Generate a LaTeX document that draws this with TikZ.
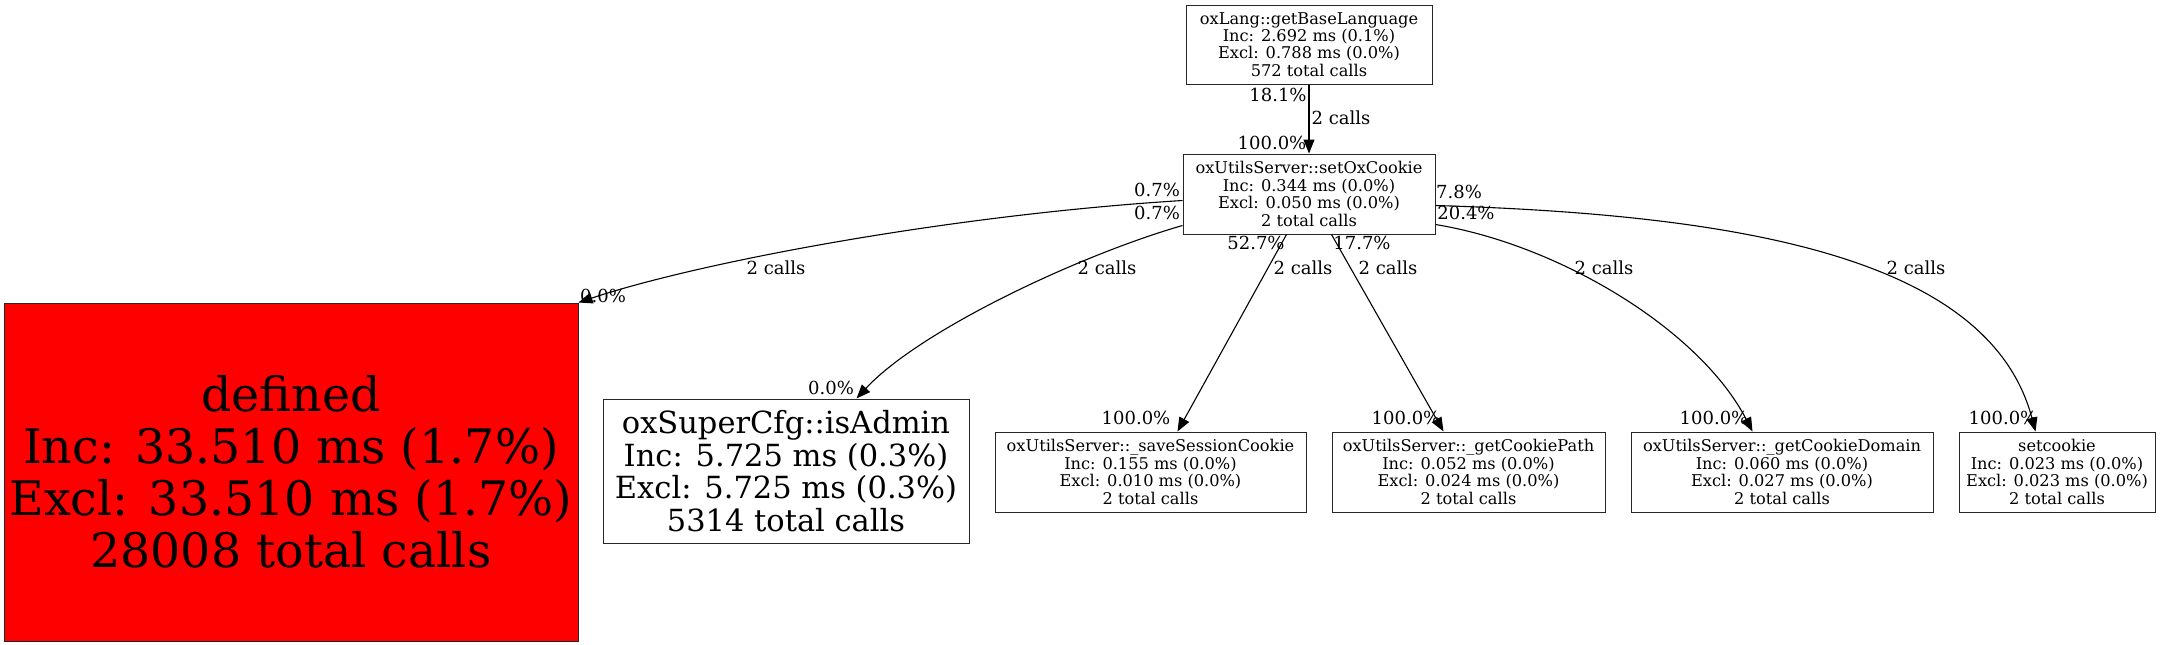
\documentclass[tikz,border=0pt]{standalone}
\usepackage{fontspec}
\setmainfont{DejaVu Serif}
\usetikzlibrary{arrows.meta,calc}
\begin{document}
\begin{tikzpicture}[x=1pt,y=-1pt,
  box/.style={draw=black!85,line width=1pt,rectangle,inner sep=0pt,align=center},
  fs/.style={box,font=\fontsize{16.2}{17.4}\selectfont,minimum height=80pt},
  lbl/.style={inner sep=0pt,font=\fontsize{18}{20}\selectfont},
  edge/.style={draw=black,line width=1.1pt,-{Triangle[length=14pt,width=11pt]}}]
\useasboundingbox (0,0) rectangle (2164,645);
% nodes
\node[fs,minimum width=246pt,minimum height=79pt] (A) at (1309,44.5) {oxLang::getBaseLanguage\\Inc: 2.692 ms (0.1\%)\\Excl: 0.788 ms (0.0\%)\\572 total calls};
\node[fs,minimum width=252pt] (B) at (1309,194) {oxUtilsServer::setOxCookie\\Inc: 0.344 ms (0.0\%)\\Excl: 0.050 ms (0.0\%)\\2 total calls};
\node[box,fill=red,minimum width=574pt,minimum height=338pt,font=\fontsize{47.5}{52}\selectfont] (D) at (291,472) {defined\\Inc: 33.510 ms (1.7\%)\\Excl: 33.510 ms (1.7\%)\\28008 total calls};
\node[box,minimum width=366pt,minimum height=144pt,font=\fontsize{30.5}{32.7}\selectfont] (E) at (786,471) {oxSuperCfg::isAdmin\\Inc: 5.725 ms (0.3\%)\\Excl: 5.725 ms (0.3\%)\\5314 total calls};
\node[fs,minimum width=311pt] (F) at (1150.5,472) {oxUtilsServer::\_saveSessionCookie\\Inc: 0.155 ms (0.0\%)\\Excl: 0.010 ms (0.0\%)\\2 total calls};
\node[fs,minimum width=273pt] (G) at (1468.5,472) {oxUtilsServer::\_getCookiePath\\Inc: 0.052 ms (0.0\%)\\Excl: 0.024 ms (0.0\%)\\2 total calls};
\node[fs,minimum width=302pt] (H) at (1782,472) {oxUtilsServer::\_getCookieDomain\\Inc: 0.060 ms (0.0\%)\\Excl: 0.027 ms (0.0\%)\\2 total calls};
\node[fs,minimum width=196pt] (I) at (2057,472) {setcookie\\Inc: 0.023 ms (0.0\%)\\Excl: 0.023 ms (0.0\%)\\2 total calls};
% edges
\draw[edge] (A.south) -- (B.north);
\draw[edge] ($(B.north west)+(0pt,-47pt)$) .. controls (950,215) and (700,262) .. (D.north east);
\draw[edge] ($(B.north west)+(0pt,-72pt)$) .. controls (1080,255) and (920,330) .. ($(E.north west)+(254pt,0pt)$);
\draw[edge] ($(B.south west)+(104pt,0pt)$) -- ($(F.north west)+(183pt,0pt)$);
\draw[edge] ($(B.south west)+(149pt,0pt)$) -- ($(G.north west)+(112pt,0pt)$);
\draw[edge] ($(B.north east)+(0pt,-71pt)$) .. controls (1560,245) and (1700,330) .. ($(H.north west)+(122pt,0pt)$);
\draw[edge] ($(B.north east)+(0pt,-52pt)$) .. controls (1750,215) and (1990,260) .. ($(I.north west)+(77pt,0pt)$);
% labels
\node[lbl] (lab) at (1341,118) {2 calls};
\node[lbl] (tab) at (1278,95) {18.1\%};
\node[lbl] (hab) at (1272,143) {100.0\%};
\node[lbl] (tbd) at (1157,190) {0.7\%};
\node[lbl] (tbe) at (1157,213) {0.7\%};
\node[lbl] (lbd) at (776,268) {2 calls};
\node[lbl] (hbd) at (603,296) {0.0\%};
\node[lbl] (lbe) at (1107,268) {2 calls};
\node[lbl] (hbe) at (831,388) {0.0\%};
\node[lbl] (tbf) at (1256,243) {52.7\%};
\node[lbl] (lbf) at (1303,268) {2 calls};
\node[lbl] (hbf) at (1136,418) {100.0\%};
\node[lbl] (tbg) at (1362,243) {17.7\%};
\node[lbl] (lbg) at (1388,268) {2 calls};
\node[lbl] (hbg) at (1406,418) {100.0\%};
\node[lbl] (tbi) at (1459,192) {7.8\%};
\node[lbl] (tbh) at (1466,213) {20.4\%};
\node[lbl] (lbh) at (1604,268) {2 calls};
\node[lbl] (lbi) at (1916,268) {2 calls};
\node[lbl] (hbh) at (1714,418) {100.0\%};
\node[lbl] (hbi) at (2003,418) {100.0\%};
\end{tikzpicture}
\end{document}
